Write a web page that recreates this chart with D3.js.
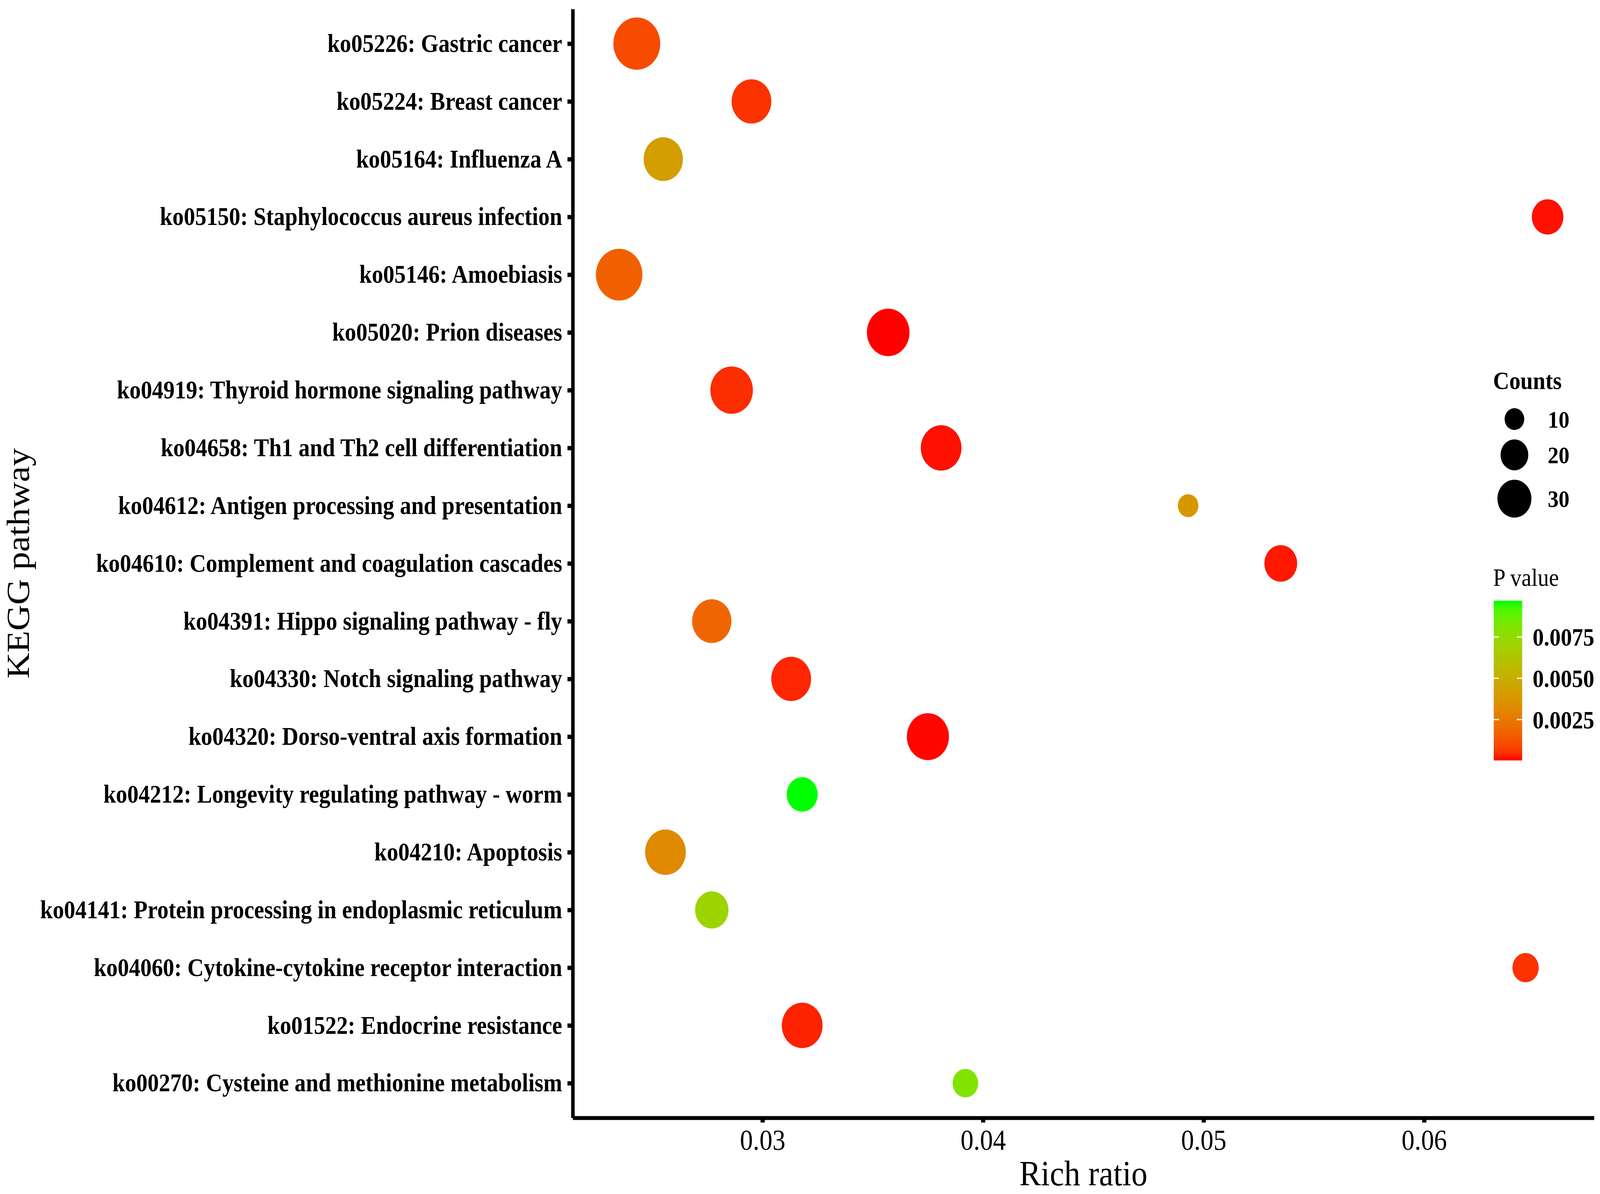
<!DOCTYPE html>
<html lang="en">
<head>
    <meta charset="UTF-8">
    <title>KEGG pathway enrichment</title>
    <script src="https://cdn.jsdelivr.net/npm/d3@7"></script>
    <style>
        html, body { margin: 0; padding: 0; background: #fff; width: 100%; height: 100%; overflow: hidden; }
        svg { display: block; width: 100vw; height: 100vh; }
        text { font-family: "Liberation Serif", "Times New Roman", serif; fill: #000; }
    </style>
</head>
<body>
    <!-- drawn in the figure's own 4562x3057 units, stretched to fill the window -->
    <svg id="chart" viewBox="0 0 4562 3057" preserveAspectRatio="none"></svg>
    <script>
        // pathways, top to bottom as in the figure
        const pathways = [
            'ko05226: Gastric cancer',
            'ko05224: Breast cancer',
            'ko05164: Influenza A',
            'ko05150: Staphylococcus aureus infection',
            'ko05146: Amoebiasis',
            'ko05020: Prion diseases',
            'ko04919: Thyroid hormone signaling pathway',
            'ko04658: Th1 and Th2 cell differentiation',
            'ko04612: Antigen processing and presentation',
            'ko04610: Complement and coagulation cascades',
            'ko04391: Hippo signaling pathway - fly',
            'ko04330: Notch signaling pathway',
            'ko04320: Dorso-ventral axis formation',
            'ko04212: Longevity regulating pathway - worm',
            'ko04210: Apoptosis',
            'ko04141: Protein processing in endoplasmic reticulum',
            'ko04060: Cytokine-cytokine receptor interaction',
            'ko01522: Endocrine resistance',
            'ko00270: Cysteine and methionine metabolism'
        ];
        const richRatio = [0.0243, 0.0295, 0.0255, 0.0656, 0.0235, 0.0357, 0.0286, 0.0381, 0.0493, 0.0535,
                           0.0277, 0.0313, 0.0375, 0.0318, 0.0256, 0.0277, 0.0646, 0.0318, 0.0392];
        const counts = [57, 41, 40, 26, 56, 47, 47, 43, 11, 28, 40, 41, 46, 25, 43, 29, 18, 43, 17];
        const pValues = [0.0010, 0.0005, 0.0042, 0.0001, 0.0016, 0.00002, 0.0004, 0.0001, 0.0039, 0.00015,
                         0.0018, 0.0003, 0.00005, 0.0097, 0.0032, 0.0071, 0.0005, 0.00025, 0.0080];

        const xTicks = [0.03, 0.04, 0.05, 0.06];
        const sizeBreaks = [10, 20, 30];
        const colorBreaks = [0.0025, 0.0050, 0.0075];

        const rows = pathways.map((p, i) => ({ name: p, ratio: richRatio[i], count: counts[i], p: pValues[i] }));

        const svg = d3.select('#chart');
        const panel = { left: 1633, right: 4545, top: 23, bottom: 2862 };
        const serif = '"Liberation Serif", "Times New Roman", serif';

        // ggplot-like 5% expansion on the continuous axis
        let ext = d3.extent(richRatio);
        let pad = (ext[1] - ext[0]) * 0.05;
        let x = d3.scaleLinear().domain([ext[0] - pad, ext[1] + pad]).range([panel.left, panel.right]);
        let y = d3.scalePoint().domain(pathways).range([panel.top, panel.bottom]).padding(0.6);
        let r = d3.scaleSqrt().domain([0, 30]).range([0, 48.5]);
        let pExt = d3.extent(pValues);
        let color = d3.scaleLinear().domain(pExt).range(['#ff0000', '#00ff00']).interpolate(d3.interpolateLab);

        // points
        svg.append('g')
            .selectAll('circle')
            .data(rows)
            .enter()
            .append('circle')
            .attr('cx', d => x(d.ratio))
            .attr('cy', d => y(d.name))
            .attr('r', d => r(d.count))
            .attr('fill', d => color(d.p));

        // x axis
        let gx = svg.append('g')
            .attr('transform', 'translate(0,' + panel.bottom + ')')
            .call(d3.axisBottom(x).tickValues(xTicks).tickFormat(d3.format('.2f')).tickSize(12).tickSizeOuter(0).tickPadding(17));
        gx.select('.domain').attr('stroke-width', 10).attr('stroke', '#000');
        gx.selectAll('.tick line').attr('stroke-width', 12);
        gx.selectAll('.tick text').style('font-family', serif).style('font-size', '74px');

        // y axis
        let gy = svg.append('g')
            .attr('transform', 'translate(' + panel.left + ',0)')
            .call(d3.axisLeft(y).tickSize(15).tickSizeOuter(0).tickPadding(15));
        gy.select('.domain').attr('stroke-width', 10).attr('stroke', '#000');
        gy.selectAll('.tick line').attr('stroke-width', 11);
        gy.selectAll('.tick text').style('font-family', serif).style('font-size', '64.5px').style('font-weight', 'bold');

        // axis titles
        svg.append('text')
            .attr('x', (panel.left + panel.right) / 2)
            .attr('y', 3035)
            .attr('text-anchor', 'middle')
            .style('font-size', '92px')
            .text('Rich ratio');

        svg.append('text')
            .attr('transform', 'translate(82,' + (panel.top + panel.bottom) / 2 + ') rotate(-90)')
            .attr('text-anchor', 'middle')
            .style('font-size', '92px')
            .text('KEGG pathway');

        // size legend
        let legX = 4257;
        svg.append('text')
            .attr('x', legX).attr('y', 996)
            .style('font-size', '64px').style('font-weight', 'bold')
            .text('Counts');

        let keyGap = 24;
        let yCursor = 1045;
        let keys = sizeBreaks.map(v => {
            let cy = yCursor + r(v);
            yCursor = cy + r(v) + keyGap;
            return { v: v, cy: cy };
        });
        let gSize = svg.append('g');
        gSize.selectAll('circle')
            .data(keys)
            .enter()
            .append('circle')
            .attr('cx', 4318)
            .attr('cy', d => d.cy)
            .attr('r', d => r(d.v))
            .attr('fill', '#000');
        gSize.selectAll('text')
            .data(keys)
            .enter()
            .append('text')
            .attr('x', 4413)
            .attr('y', d => d.cy)
            .attr('dy', '0.35em')
            .style('font-size', '62px').style('font-weight', 'bold')
            .text(d => d.v);

        // colour bar legend
        svg.append('text')
            .attr('x', legX).attr('y', 1500)
            .style('font-size', '64px')
            .text('P value');

        let bar = { x: 4259, w: 81, top: 1538, bottom: 1947 };
        let grad = svg.append('defs').append('linearGradient')
            .attr('id', 'pgrad')
            .attr('x1', 0).attr('y1', 1).attr('x2', 0).attr('y2', 0);
        d3.range(0, 1.0001, 0.05).forEach(t => {
            grad.append('stop')
                .attr('offset', t)
                .attr('stop-color', color(pExt[0] + t * (pExt[1] - pExt[0])));
        });
        svg.append('rect')
            .attr('x', bar.x).attr('y', bar.top)
            .attr('width', bar.w).attr('height', bar.bottom - bar.top)
            .attr('fill', 'url(#pgrad)');

        let barY = d3.scaleLinear().domain(pExt).range([bar.bottom, bar.top]);
        let gBar = svg.append('g');
        colorBreaks.forEach(v => {
            gBar.append('line')
                .attr('x1', bar.x).attr('x2', bar.x + 15)
                .attr('y1', barY(v)).attr('y2', barY(v))
                .attr('stroke', '#fff').attr('stroke-width', 3);
            gBar.append('line')
                .attr('x1', bar.x + bar.w - 15).attr('x2', bar.x + bar.w)
                .attr('y1', barY(v)).attr('y2', barY(v))
                .attr('stroke', '#fff').attr('stroke-width', 3);
            gBar.append('text')
                .attr('x', 4370)
                .attr('y', barY(v))
                .attr('dy', '0.35em')
                .style('font-size', '64px').style('font-weight', 'bold')
                .text(d3.format('.4f')(v));
        });
    </script>
</body>
</html>
